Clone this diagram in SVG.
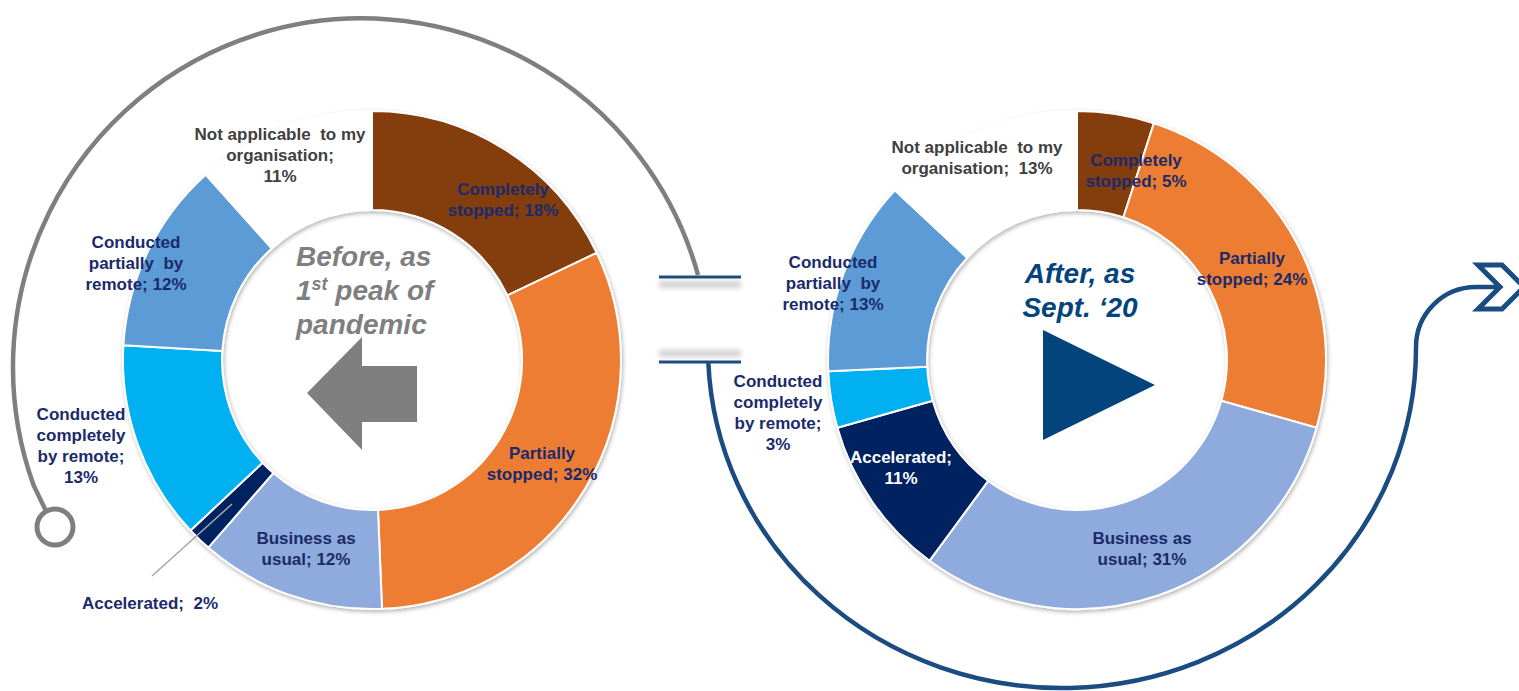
<svg xmlns="http://www.w3.org/2000/svg" width="1519" height="691" viewBox="0 0 1519 691">
<defs>
<filter id="sh" x="-10%" y="-10%" width="120%" height="120%"><feDropShadow dx="1" dy="2" stdDeviation="2" flood-color="#000" flood-opacity="0.3"/></filter>
<filter id="bl" x="-20%" y="-200%" width="140%" height="500%"><feGaussianBlur stdDeviation="2.5"/></filter>
</defs>
<style>
.seg{stroke:#fff;stroke-width:2;stroke-linejoin:round}
.lbl{font-family:'Liberation Sans',Arial,sans-serif;font-weight:bold;font-size:17px;fill:#1b2a6b;text-anchor:middle;white-space:pre}
.na{fill:#404040}
.wt{fill:#fff}
.ctr{font-family:'Liberation Sans',Arial,sans-serif;font-weight:bold;font-style:italic;font-size:28px}
.blue{fill:none;stroke:#1a4c82;stroke-width:4.5}
</style>
<rect width="1519" height="691" fill="#fff"/>

<g id="donut-before">
  <g filter="url(#sh)">
    <path id="b-completely" class="seg" fill="#843c0c" d="M372,111 A249 249 0 0 1 596.7,252.8 L507.4,295.4 A150 150 0 0 0 372,210 Z"/>
    <path id="b-partially" class="seg" fill="#ed7d31" d="M596.7,252.8 A249 249 0 0 1 382,608.8 L378,509.9 A150 150 0 0 0 507.4,295.4 Z"/>
    <path id="b-business" class="seg" fill="#8faadc" d="M382,608.8 A249 249 0 0 1 208.3,547.6 L273.4,473 A150 150 0 0 0 378,509.9 Z"/>
    <path id="b-accelerated" class="seg" fill="#002060" d="M208.3,547.6 A249 249 0 0 1 190.5,530.4 L262.6,462.7 A150 150 0 0 0 273.4,473 Z"/>
    <path id="b-remote-full" class="seg" fill="#00b0f0" d="M190.5,530.4 A249 249 0 0 1 123.4,345.2 L222.3,351.1 A150 150 0 0 0 262.6,462.7 Z"/>
    <path id="b-remote-part" class="seg" fill="#5b9bd5" d="M123.4,345.2 A249 249 0 0 1 205.7,174.7 L271.8,248.4 A150 150 0 0 0 222.3,351.1 Z"/>
    <path id="b-na" class="seg" fill="#fff" d="M205.7,174.7 A249 249 0 0 1 372,111 L372,210 A150 150 0 0 0 271.8,248.4 Z"/>
  </g>
  <g id="b-labels">
    <text class="lbl" x="503" y="195">Completely</text>
    <text class="lbl" x="503" y="216">stopped; 18%</text>
    <text class="lbl" x="542" y="459">Partially</text>
    <text class="lbl" x="542" y="480">stopped; 32%</text>
    <text class="lbl" x="306" y="544">Business as</text>
    <text class="lbl" x="306" y="565">usual; 12%</text>
    <text class="lbl" x="150" y="609">Accelerated;  2%</text>
    <text class="lbl" x="81" y="420">Conducted</text>
    <text class="lbl" x="81" y="441">completely</text>
    <text class="lbl" x="81" y="462">by remote;</text>
    <text class="lbl" x="81" y="483">13%</text>
    <text class="lbl" x="136" y="248">Conducted</text>
    <text class="lbl" x="136" y="269">partially  by</text>
    <text class="lbl" x="136" y="290">remote; 12%</text>
    <text class="lbl na" x="280" y="140">Not applicable  to my</text>
    <text class="lbl na" x="280" y="161">organisation;</text>
    <text class="lbl na" x="280" y="182">11%</text>
  </g>
  <g id="b-center">
    <text class="ctr" fill="#7f7f7f" x="296" y="266">Before, as</text>
    <text class="ctr" fill="#7f7f7f" x="296" y="300">1<tspan font-size="18" dy="-10">st</tspan><tspan dy="10"> peak of</tspan></text>
    <text class="ctr" fill="#7f7f7f" x="296" y="334">pandemic</text>
    <polygon points="307,393 362,337 362,366 417,366 417,422 362,422 362,450" fill="#7f7f7f"/>
  </g>
</g>

<g id="donut-after">
  <g filter="url(#sh)">
    <path id="a-completely" class="seg" fill="#843c0c" d="M1077,111 A249 249 0 0 1 1153.9,123.2 L1123.4,217.3 A150 150 0 0 0 1077,210 Z"/>
    <path id="a-partially" class="seg" fill="#ed7d31" d="M1153.9,123.2 A249 249 0 0 1 1316.6,427.8 L1221.3,400.8 A150 150 0 0 0 1123.4,217.3 Z"/>
    <path id="a-business" class="seg" fill="#8faadc" d="M1316.6,427.8 A249 249 0 0 1 929.6,560.7 L988.2,480.9 A150 150 0 0 0 1221.3,400.8 Z"/>
    <path id="a-accelerated" class="seg" fill="#002060" d="M929.6,560.7 A249 249 0 0 1 837.4,427.8 L932.7,400.8 A150 150 0 0 0 988.2,480.9 Z"/>
    <path id="a-remote-full" class="seg" fill="#00b0f0" d="M837.4,427.8 A249 249 0 0 1 828.3,371.3 L927.2,366.8 A150 150 0 0 0 932.7,400.8 Z"/>
    <path id="a-remote-part" class="seg" fill="#5b9bd5" d="M828.3,371.3 A249 249 0 0 1 894.9,190.2 L967.3,257.7 A150 150 0 0 0 927.2,366.8 Z"/>
    <path id="a-na" class="seg" fill="#fff" d="M894.9,190.2 A249 249 0 0 1 1077,111 L1077,210 A150 150 0 0 0 967.3,257.7 Z"/>
  </g>
  <g id="a-labels">
    <text class="lbl" x="1136" y="166">Completely</text>
    <text class="lbl" x="1136" y="187">stopped; 5%</text>
    <text class="lbl" x="1252" y="264">Partially</text>
    <text class="lbl" x="1252" y="285">stopped; 24%</text>
    <text class="lbl" x="1142" y="544">Business as</text>
    <text class="lbl" x="1142" y="565">usual; 31%</text>
    <text class="lbl wt" x="901" y="463">Accelerated;</text>
    <text class="lbl wt" x="901" y="484">11%</text>
    <text class="lbl" x="778" y="387">Conducted</text>
    <text class="lbl" x="778" y="408">completely</text>
    <text class="lbl" x="778" y="429">by remote;</text>
    <text class="lbl" x="778" y="450">3%</text>
    <text class="lbl" x="833" y="268">Conducted</text>
    <text class="lbl" x="833" y="289">partially  by</text>
    <text class="lbl" x="833" y="310">remote; 13%</text>
    <text class="lbl na" x="977" y="153">Not applicable  to my</text>
    <text class="lbl na" x="977" y="174">organisation;  13%</text>
  </g>
  <g id="a-center">
    <text class="ctr" fill="#03447c" x="1080" y="283" text-anchor="middle">After, as</text>
    <text class="ctr" fill="#03447c" x="1080" y="317" text-anchor="middle">Sept. ‘20</text>
    <polygon points="1043,330 1155,385 1043,440" fill="#03447c"/>
  </g>
</g>

<g id="connectors">
  <path d="M698,275 A348.7 348.7 0 1 0 33.7,485.5 L46,511" fill="none" stroke="#7f7f7f" stroke-width="4.5"/>
  <circle cx="55" cy="527" r="18" fill="none" stroke="#7f7f7f" stroke-width="5"/>
  <rect x="659" y="281" width="82" height="7" fill="#000" opacity="0.18" filter="url(#bl)"/>
  <rect x="659" y="350" width="82" height="7" fill="#000" opacity="0.18" filter="url(#bl)"/>
  <line x1="659" y1="277" x2="741" y2="277" stroke="#1a4c82" stroke-width="3"/>
  <line x1="659" y1="362" x2="741" y2="362" stroke="#1a4c82" stroke-width="3"/>
  <path class="blue" d="M708.3,362 A354 340 0 0 0 1416,347 A60 60 0 0 1 1476,287 L1499,287"/>
  <polygon points="1478,265 1502,265 1524,287 1502,309 1478,309 1500,287" fill="#fff" stroke="#1a4c82" stroke-width="5"/>
  <line x1="152" y1="576" x2="232" y2="504" stroke="#a6a6a6" stroke-width="1.5"/>
</g>
</svg>
